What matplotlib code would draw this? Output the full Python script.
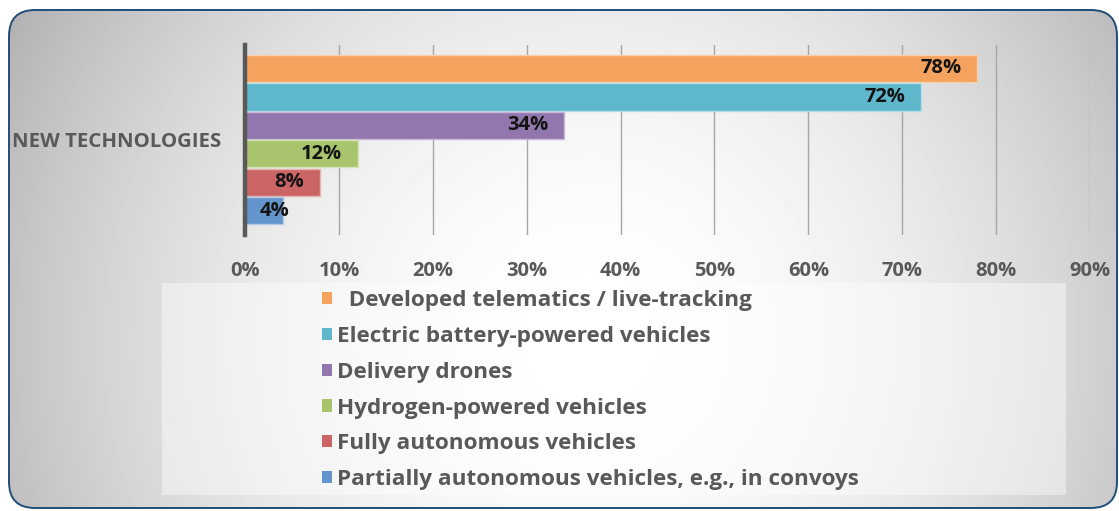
import numpy as np
import matplotlib
matplotlib.use("Agg")
import matplotlib.pyplot as plt
from matplotlib.patches import FancyBboxPatch, Rectangle
from matplotlib.ticker import PercentFormatter

plt.rcParams['font.family'] = ['Open Sans', 'DejaVu Sans']
plt.rcParams['font.weight'] = 'bold'

category = "NEW TECHNOLOGIES"
series = [
    "  Developed telematics / live-tracking",
    "Electric battery-powered vehicles",
    "Delivery drones",
    "Hydrogen-powered vehicles",
    "Fully autonomous vehicles",
    "Partially autonomous vehicles, e.g., in convoys",
]
values = [78, 72, 34, 12, 8, 4]
colors = ["#F5A25E", "#5FB7CC", "#9177AD", "#A8C46C", "#CB6464", "#6394CB"]
edge_colors = ["#FAD0AC", "#B5DDE7", "#C7B8D7", "#D5E3B8", "#E6B3B3", "#B3CBE6"]
x_ticks = [0, 10, 20, 30, 40, 50, 60, 70, 80, 90]

W, H = 1119, 511
fig = plt.figure(figsize=(W / 100, H / 100), dpi=100)
fig.patch.set_facecolor("white")

# rounded panel with a soft radial gradient
bg = fig.add_axes([0, 0, 1, 1], zorder=0)
bg.set_xlim(0, W)
bg.set_ylim(H, 0)
bg.axis("off")
yy, xx = np.mgrid[0:H, 0:W]
d = np.sqrt(((xx - 590) / 600.0) ** 2 + ((yy - 340) / 600.0) ** 2)
val = 1.0 - 0.25 * np.clip(d, 0, 1.3) ** 1.9
img = bg.imshow(val, cmap="gray", vmin=0, vmax=1, extent=(0, W, H, 0),
                interpolation="bilinear", aspect="auto")
panel = FancyBboxPatch((9, 10), 1108, 498, boxstyle="round,pad=0,rounding_size=26",
                       facecolor="none", edgecolor="#1F4E79", linewidth=1.4,
                       transform=bg.transData, zorder=3)
bg.add_patch(panel)
img.set_clip_path(panel)

# translucent legend panel
bg.add_patch(Rectangle((162, 283), 904, 212, facecolor="white", alpha=0.42,
                       edgecolor="none", transform=bg.transData, zorder=2))

# bar chart
x0, x1 = 245 / W, 1090 / W
ytop, ybot = 45 / H, 235 / H
ax = fig.add_axes([x0, 1 - ybot, x1 - x0, ybot - ytop], zorder=2)
ax.set_facecolor("none")

n = len(values)
positions = np.arange(n)[::-1]
handles = []
for pos, v, c, ec, lab in zip(positions, values, colors, edge_colors, series):
    h = ax.barh(pos, v, height=0.96, color=c, edgecolor=ec, linewidth=1.0,
                label=lab, zorder=2)
    handles.append(h)
    xr = max(v - 1.7, 4.7)
    ax.text(xr, pos, f"{v}%", ha="right", va="center", fontsize=14.5,
            fontweight="bold", color="#141414", zorder=3)

ax.set_xlim(0, 90)
ax.set_ylim(-0.85, n - 0.5 + 0.32)
ax.set_xticks(x_ticks)
ax.xaxis.set_major_formatter(PercentFormatter(decimals=0))
ax.set_yticks([(n - 1) / 2])
ax.set_yticklabels([category])
ax.tick_params(axis="x", length=0, pad=19, labelsize=14.5, labelcolor="#595959")
ax.tick_params(axis="y", length=0, pad=17, labelsize=14.7, labelcolor="#595959")
for lab in ax.get_xticklabels() + ax.get_yticklabels():
    lab.set_fontweight("bold")
ax.grid(axis="x", color="#A6A6A6", linewidth=1.0, zorder=0)
ax.set_axisbelow(True)
for s in ["top", "right", "bottom"]:
    ax.spines[s].set_visible(False)
ax.spines["left"].set_color("#595959")
ax.spines["left"].set_linewidth(3.2)
ax.spines["left"].set_zorder(4)

leg = fig.legend(handles=handles, loc="upper left",
                 bbox_to_anchor=(322 / W, 1 - 290 / H), frameon=False,
                 fontsize=16.2, handlelength=0.45, handleheight=0.45,
                 handletextpad=0.22, labelspacing=0.66, borderaxespad=0,
                 borderpad=0)
for t in leg.get_texts():
    t.set_color("#595959")
    t.set_fontweight("bold")
for p in leg.get_patches():
    p.set_edgecolor("none")

fig.savefig("out.png", dpi=100)
